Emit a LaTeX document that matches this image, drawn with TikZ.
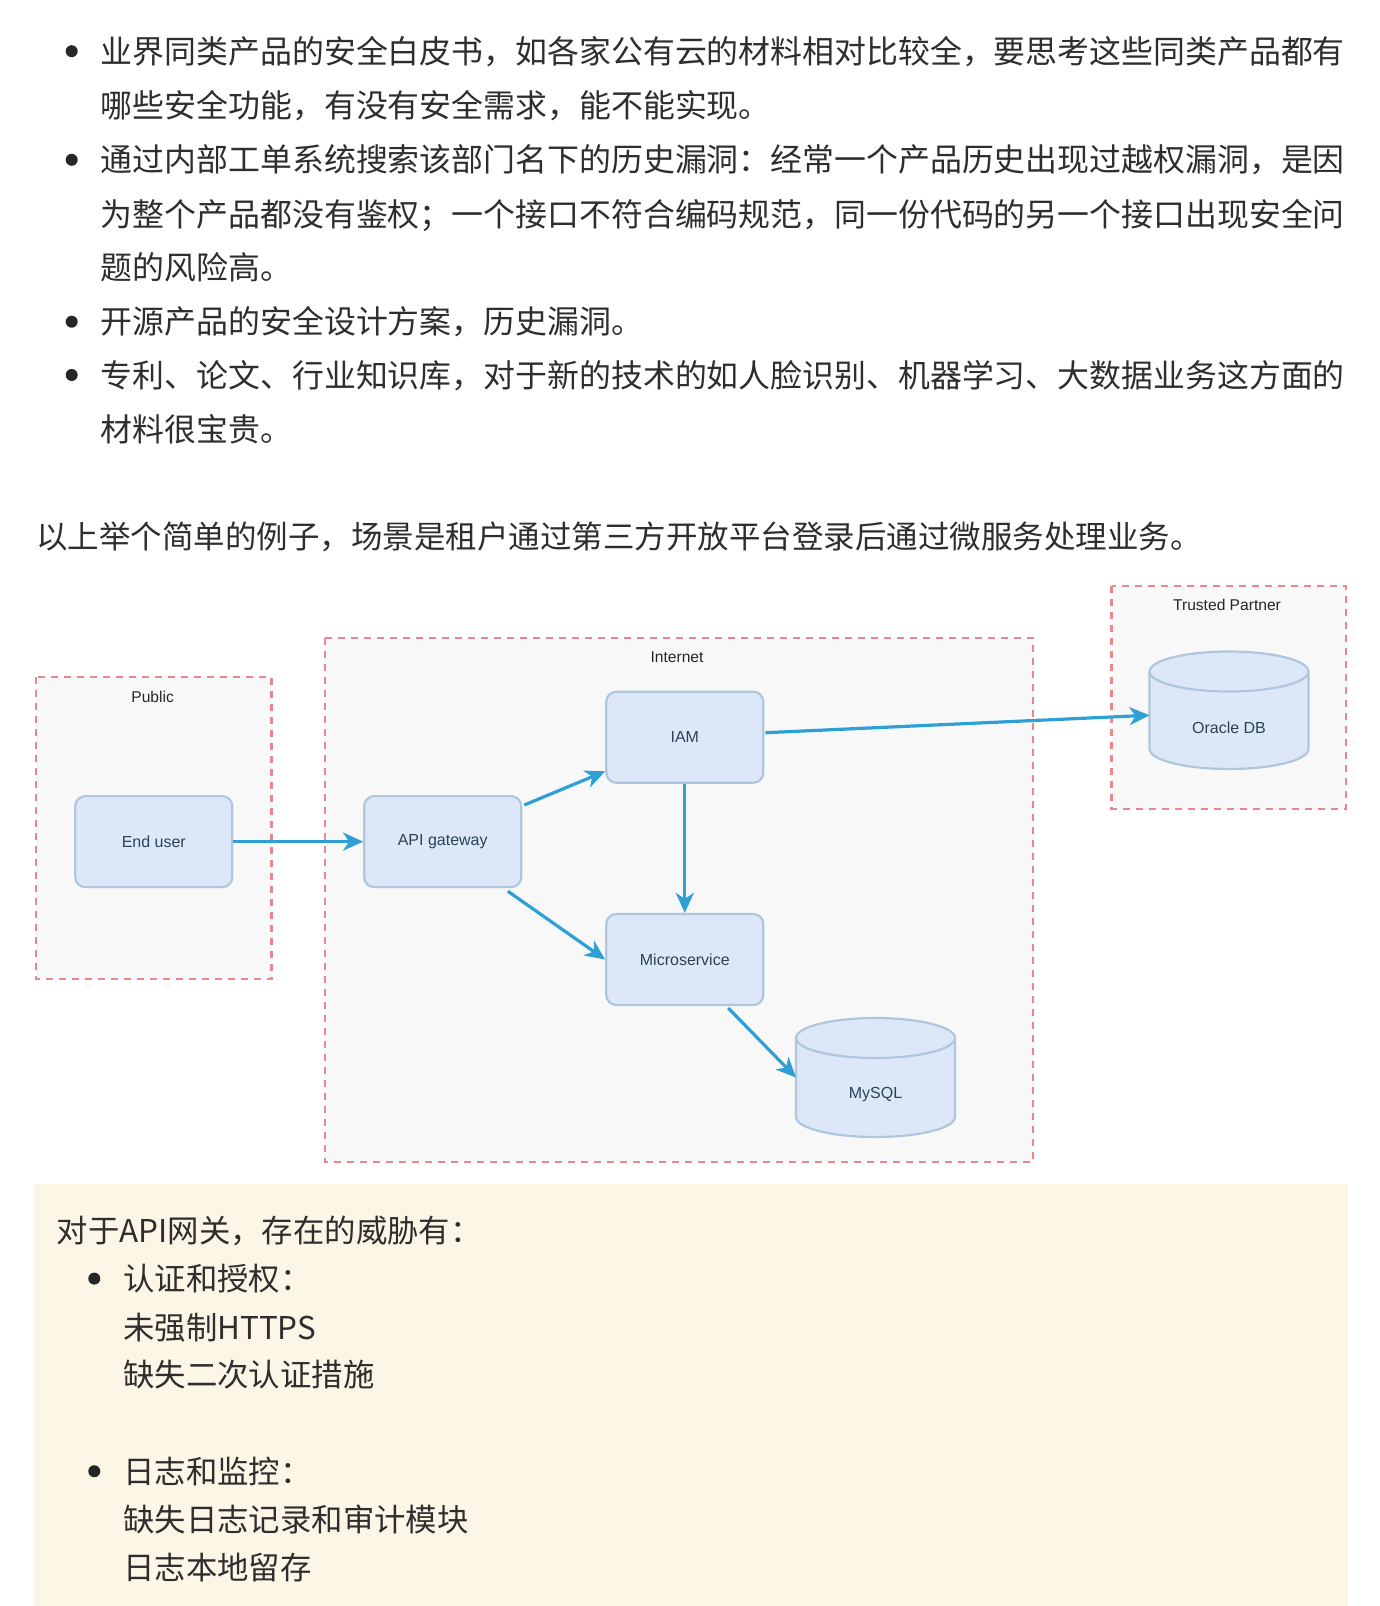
\documentclass[tikz,border=0pt]{standalone}
\usepackage{fontspec}
\setmainfont{Liberation Sans}
\newfontfamily\cjk{Noto Sans CJK SC}
\usetikzlibrary{arrows.meta,calc}
\definecolor{txt}{HTML}{2E2E2E}
\definecolor{arrowc}{HTML}{2EA0D6}
\definecolor{boxfill}{HTML}{DCE8F7}
\definecolor{boxline}{HTML}{B0C6DC}
\definecolor{zonefill}{HTML}{F8F8F8}
\definecolor{zoneline}{HTML}{E8878C}
\definecolor{notefill}{HTML}{FCF6E6}
\definecolor{lbl}{HTML}{2B4259}
\newcommand\drawcyl[4]{%
  \path[draw=boxline, fill=boxfill, line width=1.1pt] (#1,#3+20) -- (#1,#4-20)
    arc[start angle=180,end angle=360,x radius=39.75pt,y radius=10pt] -- (#2,#3+20)
    arc[start angle=0,end angle=180,x radius=39.75pt,y radius=10pt] -- cycle;
  \draw[boxline, line width=1.1pt] (#1,#3+20)
    arc[start angle=180,end angle=360,x radius=39.75pt,y radius=10pt];
}
\tikzset{
  zone/.style={draw=zoneline, fill=zonefill, line width=1.2pt, dash pattern=on 3.5pt off 3pt},
  svc/.style={draw=boxline, fill=boxfill, line width=1.1pt, rounded corners=5pt,
    minimum width=78.5pt, minimum height=45.5pt, inner sep=0,
    font=\fontsize{8pt}{9pt}\selectfont, text=lbl},
  dblabel/.style={inner sep=0, font=\fontsize{8pt}{9pt}\selectfont, text=lbl},
  dbbody/.style={inner sep=0, outer sep=0, minimum width=79.5pt},
  flow/.style={draw=arrowc, line width=1.6pt, -{Stealth[length=10pt,width=9pt,inset=3pt]}},
  zonelabel/.style={font=\fontsize{7.8pt}{9pt}\selectfont, text=black!85, inner sep=0},
  cn/.style={font=\cjk\fontsize{15.95pt}{18pt}\selectfont, text=txt, inner sep=0, anchor=base west},
  cnb/.style={font=\cjk\fontsize{15.7pt}{18pt}\selectfont, text=txt, inner sep=0, anchor=base west},
  dot/.style={circle, fill=black!85, inner sep=0, minimum size=6pt}
}
\begin{document}
\begin{tikzpicture}[x=0.5pt,y=-0.5pt]
\useasboundingbox[fill=white] (0,0) rectangle (1380,1606);

% top bullet list
\node[dot] (b1) at (71.7,51.2) {};
\node[cn] (t1) at (100.4,63.3) {业界同类产品的安全白皮书，如各家公有云的材料相对比较全，要思考这些同类产品都有};
\node[cn] (t2) at (100.4,117.6) {哪些安全功能，有没有安全需求，能不能实现。};
\node[dot] (b2) at (71.7,159.8) {};
\node[cn] (t3) at (100.4,171.9) {通过内部工单系统搜索该部门名下的历史漏洞：经常一个产品历史出现过越权漏洞，是因};
\node[cn] (t4) at (100.4,226.2) {为整个产品都没有鉴权；一个接口不符合编码规范，同一份代码的另一个接口出现安全问};
\node[cn] (t5) at (100.4,279.5) {题的风险高。};
\node[dot] (b3) at (71.7,321.7) {};
\node[cn] (t6) at (100.4,333.8) {开源产品的安全设计方案，历史漏洞。};
\node[dot] (b4) at (71.7,375.0) {};
\node[cn] (t7) at (100.4,387.1) {专利、论文、行业知识库，对于新的技术的如人脸识别、机器学习、大数据业务这方面的};
\node[cn] (t8) at (100.4,441.4) {材料很宝贵。};

\node[cn, font=\cjk\fontsize{15.75pt}{18pt}\selectfont] (para) at (35.9,548.9) {以上举个简单的例子，场景是租户通过第三方开放平台登录后通过微服务处理业务。};

% zones
\draw[zone] (36,677) rectangle (271.5,979);
\node[zonelabel] (zpub) at (152.6,697) {Public};
\draw[zone] (325,638) rectangle (1033,1162);
\node[zonelabel] (zint) at (677,657) {Internet};
\draw[zone] (1111.6,586) rectangle (1346,809);
\node[zonelabel] (ztrust) at (1227,604.5) {Trusted Partner};

% services
\node[svc] (user) at (153.8,841.6) {End user};
\node[svc] (api) at (442.7,841.6) {API gateway};
\node[svc] (iam) at (684.8,737.2) {IAM};
\node[svc] (micro) at (684.8,959.5) {Microservice};

% databases
\drawcyl{796}{955}{1018}{1137}
\node[dbbody, minimum height=59.5pt] (mysql) at (875.5,1077.5) {};
\node[dblabel] (mysqllbl) at (875.5,1095) {MySQL};
\drawcyl{1149.5}{1308.5}{651.5}{769}
\node[dbbody, minimum height=58.75pt] (oracle) at (1229,710.25) {};
\node[dblabel] (oraclelbl) at (1229,728) {Oracle DB};

% connectors
\draw[flow] (user.east) -- (api.west);
\draw[flow] ($(api.north east)+(2,10)$) -- ($(iam.south west)+(0,-12.5)$);
\draw[flow] (iam.south) -- (micro.north);
\draw[flow] ($(api.south east)+(-14.5,3)$) -- (micro.west);
\draw[flow] ($(micro.south)+(43.5,2)$) -- (mysql.west);
\draw[flow] ($(iam.east)+(1,-4.5)$) -- ($(oracle.west)+(0,5)$);

% note box
\fill[notefill] (34,1184) rectangle (1348,1606);
\node[cnb] (n0) at (56.3,1242.3) {对于API网关，存在的威胁有：};
\node[dot] (nb1) at (94.3,1278.6) {};
\node[cnb] (n1) at (122.9,1290.5) {认证和授权：};
\node[cnb] (n2) at (122.9,1339.6) {未强制HTTPS};
\node[cnb] (n3) at (122.9,1386.8) {缺失二次认证措施};
\node[dot] (nb2) at (94.3,1471.2) {};
\node[cnb] (n4) at (122.9,1483.1) {日志和监控：};
\node[cnb] (n5) at (122.9,1531.2) {缺失日志记录和审计模块};
\node[cnb] (n6) at (122.9,1579.4) {日志本地留存};
\end{tikzpicture}
\end{document}
